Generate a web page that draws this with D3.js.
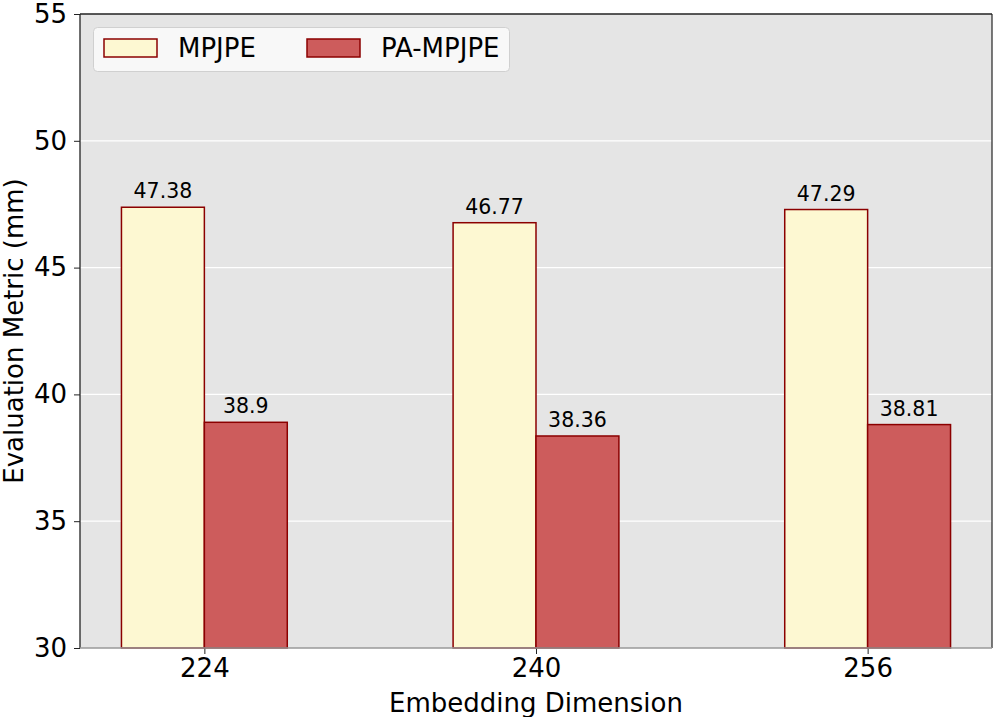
<!DOCTYPE html>
<html><head><meta charset="utf-8">
<script src="https://cdn.jsdelivr.net/npm/d3@7"></script>
<style>body{margin:0;background:#fff}svg{display:block;font-family:"DejaVu Sans",sans-serif}</style>
</head><body>
<svg id="c" width="996" height="717"></svg>
<script>
const categories = ["224", "240", "256"];
const seriesNames = ["MPJPE", "PA-MPJPE"];
const mpjpe = [47.38, 46.77, 47.29];
const paMpjpe = [38.9, 38.36, 38.81];
const labelsMpjpe = ["47.38", "46.77", "47.29"];
const labelsPa = ["38.9", "38.36", "38.81"];
const yTicks = [30, 35, 40, 45, 50, 55];

const fills = ["#fdf8d2", "#cd5c5c"];
const edge = "#8b0000";
const L = 80, R = 992, T = 14, B = 648;
const svg = d3.select("#c");

const x = d3.scaleLinear().domain([-0.375, 2.375]).range([L, R]);
const y = d3.scaleLinear().domain([30, 55]).range([B, T]);
const bw = x(0.25) - x(0);

svg.append("rect").attr("x", L).attr("y", T).attr("width", R - L).attr("height", B - T).attr("fill", "#e5e5e5");

// grid
svg.append("g").selectAll("line").data(yTicks.filter(d => d > 30 && d < 55)).join("line")
  .attr("x1", L).attr("x2", R).attr("y1", d => y(d)).attr("y2", d => y(d))
  .attr("stroke", "#fff").attr("stroke-width", 1.2);

const series = [
  {vals: mpjpe, labels: labelsMpjpe, off: -0.125, fill: fills[0]},
  {vals: paMpjpe, labels: labelsPa, off: 0.125, fill: fills[1]}
];
series.forEach(s => {
  const g = svg.append("g");
  g.selectAll("rect").data(s.vals).join("rect")
    .attr("x", (d, i) => x(i + s.off) - bw / 2)
    .attr("y", d => y(d))
    .attr("width", bw)
    .attr("height", d => y(30) - y(d))
    .attr("fill", s.fill).attr("stroke", edge).attr("stroke-width", 1.5);
  g.selectAll("text").data(s.vals).join("text")
    .attr("x", (d, i) => x(i + s.off))
    .attr("y", d => y(d) - 9)
    .attr("text-anchor", "middle").attr("font-size", 20.5).attr("fill", "#000")
    .text((d, i) => s.labels[i]);
});

// axes
const yAxis = d3.axisLeft(y).tickValues(yTicks).tickSize(6).tickPadding(7).tickFormat(d3.format("d"));
const ya = svg.append("g").attr("transform", `translate(${L},0)`).call(yAxis);
ya.select(".domain").remove();
ya.selectAll("text").attr("font-size", 26).attr("fill", "#000").attr("font-family", "DejaVu Sans");
ya.selectAll("line").attr("stroke", "#222");

const xAxis = d3.axisBottom(x).tickValues([0, 1, 2]).tickSize(6).tickPadding(5).tickFormat(i => categories[i]);
const xa = svg.append("g").attr("transform", `translate(0,${B})`).call(xAxis);
xa.select(".domain").remove();
xa.selectAll("text").attr("font-size", 26).attr("fill", "#000").attr("font-family", "DejaVu Sans");
xa.selectAll("line").attr("stroke", "#222");

// spines
svg.append("line").attr("x1", L).attr("x2", L).attr("y1", T).attr("y2", B).attr("stroke", "#222").attr("stroke-width", 1.3);
svg.append("line").attr("x1", R).attr("x2", R).attr("y1", T).attr("y2", B).attr("stroke", "#333").attr("stroke-width", 1.3);
svg.append("line").attr("x1", L).attr("x2", R).attr("y1", T).attr("y2", T).attr("stroke", "#222").attr("stroke-width", 1.3);
svg.append("line").attr("x1", L).attr("x2", R).attr("y1", B).attr("y2", B).attr("stroke", "#999").attr("stroke-width", 1.3);

// axis labels
svg.append("text").attr("x", (L + R) / 2).attr("y", 712).attr("text-anchor", "middle")
  .attr("font-size", 26).text("Embedding Dimension");
svg.append("text").attr("transform", `translate(23,${(T + B) / 2}) rotate(-90)`).attr("text-anchor", "middle")
  .attr("font-size", 26).text("Evaluation Metric (mm)");

// legend
const lg = svg.append("g");
lg.append("rect").attr("x", 93.5).attr("y", 27.5).attr("width", 416).attr("height", 44).attr("rx", 4)
  .attr("fill", "#f9f9f9").attr("fill-opacity", 0.9).attr("stroke", "#d0d0d0").attr("stroke-width", 1);
const lx = [104, 307];
seriesNames.forEach((n, i) => {
  lg.append("rect").attr("x", lx[i]).attr("y", 39).attr("width", 53).attr("height", 18)
    .attr("fill", fills[i]).attr("stroke", edge).attr("stroke-width", 1.5);
  lg.append("text").attr("x", lx[i] + 74).attr("y", 57).attr("font-size", 26).text(n);
});
</script>
</body></html>
